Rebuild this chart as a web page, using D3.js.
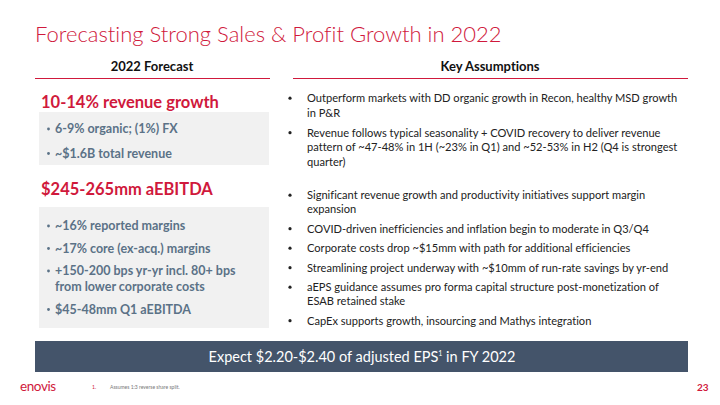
<!DOCTYPE html>
<html><head><meta charset="utf-8">
<script src="https://cdn.jsdelivr.net/npm/d3@7"></script>
<style>html,body{margin:0;padding:0;background:#fff;}svg{display:block;}text{font-variant-ligatures:none;font-feature-settings:"liga" 0;}</style>
</head><body>
<script>
const title = "Forecasting Strong Sales & Profit Growth in 2022";
const columnHeads = ["2022 Forecast", "Key Assumptions"];
const forecastHeads = ["10-14% revenue growth", "$245-265mm aEBITDA"];
const revenueBullets = [["6-9% organic; (1%) FX"], ["~$1.6B total revenue"]];
const ebitdaBullets = [["~16% reported margins"], ["~17% core (ex-acq.) margins"],
  ["+150-200 bps yr-yr incl. 80+ bps", "from lower corporate costs"], ["$45-48mm Q1 aEBITDA"]];
const assumptionsA = [
  ["Outperform markets with DD organic growth in Recon, healthy MSD growth", "in P&R"],
  ["Revenue follows typical seasonality + COVID recovery to deliver revenue",
   "pattern of ~47-48% in 1H (~23% in Q1) and ~52-53% in H2 (Q4 is strongest", "quarter)"]
];
const assumptionsB = [
  ["Significant revenue growth and productivity initiatives support margin", "expansion"],
  ["COVID-driven inefficiencies and inflation begin to moderate in Q3/Q4"],
  ["Corporate costs drop ~$15mm with path for additional efficiencies"],
  ["Streamlining project underway with ~$10mm of run-rate savings by yr-end"],
  ["aEPS guidance assumes pro forma capital structure post-monetization of", "ESAB retained stake"],
  ["CapEx supports growth, insourcing and Mathys integration"]
];
const banner = ["Expect $2.20-$2.40 of adjusted EPS", "1", " in FY 2022"];
const footnote = ["1.", "Assumes 1:3 reverse share split."];
const pageNumber = "23";
const logoText = "enovis";

const W = 720, H = 405;
const RED = "#d0193c", SLATE = "#5b7287", BANNER = "#44546a";
const FONT = "Lato, 'Open Sans', sans-serif";
const svg = d3.select("body").append("svg").attr("width", W).attr("height", H)
  .style("font-family", FONT);

svg.append("text").attr("x", 35).attr("y", 42).attr("fill", RED)
  .attr("font-size", 22).attr("font-weight", 300).text(title);

// column heads + rules
const heads = [{t: columnHeads[0], cx: 152, x1: 35, x2: 270}, {t: columnHeads[1], cx: 490, x1: 293, x2: 688}];
svg.selectAll(".ch").data(heads).join("text").attr("class", "ch")
  .attr("x", d => d.cx).attr("y", 71).attr("text-anchor", "middle")
  .attr("font-size", 13).attr("font-weight", 700).attr("fill", "#111").text(d => d.t);
svg.selectAll(".rule").data(heads).join("line").attr("class", "rule")
  .attr("x1", d => d.x1).attr("x2", d => d.x2).attr("y1", 78.5).attr("y2", 78.5)
  .attr("stroke", RED).attr("stroke-width", 1.2);

// left panel
function leftBlock(head, headY, items, boxY, boxH, firstY, itemGap, lineGap) {
  svg.append("text").attr("x", 41).attr("y", headY).attr("fill", RED)
    .attr("font-size", 16.5).attr("font-weight", 700).text(head);
  svg.append("rect").attr("x", 39).attr("y", boxY).attr("width", 230).attr("height", boxH).attr("fill", "#f1f1f1");
  let y = firstY;
  items.forEach(lines => {
    svg.append("circle").attr("cx", 48.5).attr("cy", y - 4).attr("r", 1.4).attr("fill", SLATE);
    lines.forEach((l, i) => {
      svg.append("text").attr("x", 55).attr("y", y + i * lineGap).attr("fill", SLATE)
        .attr("font-size", 12.5).attr("font-weight", 700).text(l);
    });
    y += itemGap + (lines.length - 1) * lineGap;
  });
}
leftBlock(forecastHeads[0], 108, revenueBullets, 112, 53, 133, 24.5, 16);
leftBlock(forecastHeads[1], 195, ebitdaBullets, 207, 121, 230, 22.5, 16);

// right bullets
function rightBlock(items, firstY, itemGap, lineGap) {
  let y = firstY;
  items.forEach(lines => {
    svg.append("circle").attr("cx", 290).attr("cy", y - 3.8).attr("r", 1.6).attr("fill", "#222");
    lines.forEach((l, i) => {
      svg.append("text").attr("x", 307).attr("y", y + i * lineGap).attr("fill", "#222")
        .attr("font-size", 11.1).text(l);
    });
    y += itemGap + (lines.length - 1) * lineGap;
  });
}
rightBlock(assumptionsA, 102, 20, 14.5);
rightBlock(assumptionsB, 199, 19.5, 14);

// banner
svg.append("rect").attr("x", 35).attr("y", 341).attr("width", 653).attr("height", 31).attr("fill", BANNER);
const bt = svg.append("text").attr("x", 362).attr("y", 362).attr("text-anchor", "middle")
  .attr("fill", "#fff").attr("font-size", 14.5).attr("font-weight", 400);
bt.append("tspan").text(banner[0]);
bt.append("tspan").attr("font-size", 7).attr("dy", -6).text(banner[1]);
bt.append("tspan").attr("font-size", 14.5).attr("dy", 6).text(banner[2]);

// footer
svg.append("text").attr("x", 20).attr("y", 391).attr("fill", RED).attr("font-size", 13.5)
  .attr("font-weight", 400).attr("letter-spacing", -0.4).text(logoText);
svg.append("text").attr("x", 92).attr("y", 389).attr("fill", RED).attr("font-size", 5).text(footnote[0]);
svg.append("text").attr("x", 110).attr("y", 389).attr("fill", "#777").attr("font-size", 5).text(footnote[1]);
svg.append("text").attr("x", 697).attr("y", 391).attr("fill", RED).attr("font-size", 10)
  .attr("font-weight", 700).text(pageNumber);
</script>
</body></html>
